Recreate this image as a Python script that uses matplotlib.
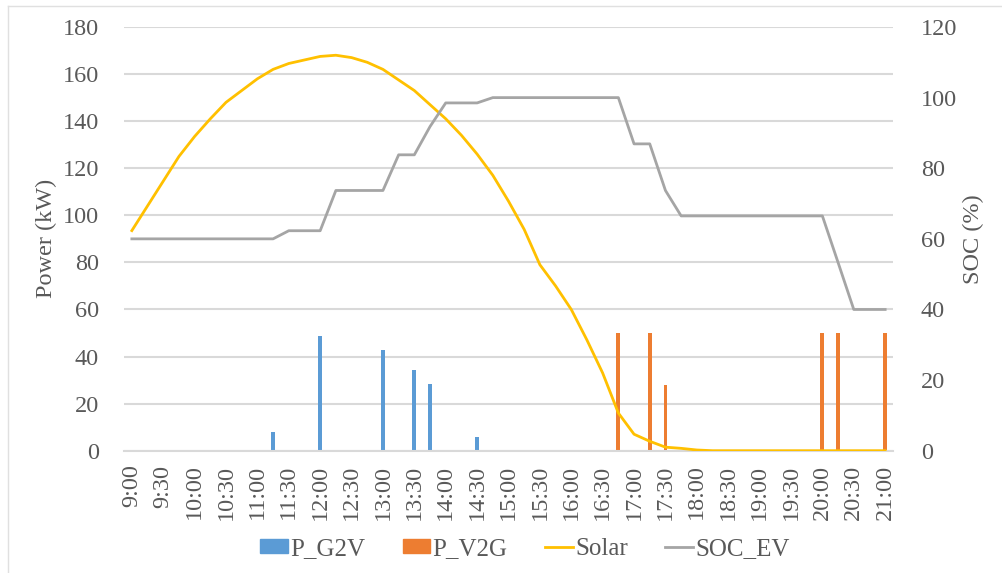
import matplotlib.pyplot as plt
import numpy as np
from matplotlib.lines import Line2D
from matplotlib.patches import Patch

# 15-minute steps from 9:00 to 21:00
times = [f"{h}:{m:02d}" for h in range(9, 22) for m in (0, 15, 30, 45)][:49]

p_g2v = [0]*49
for i, v in [(9, 8.1), (11, 0.5), (12, 48.6), (16, 42.6), (18, 34.4), (19, 28.3), (22, 5.7)]:
    p_g2v[i] = v

p_v2g = [0]*49
for i, v in [(31, 50), (33, 50), (34, 28), (44, 50), (45, 50), (48, 50)]:
    p_v2g[i] = v

solar = [93.5, 104, 114.5, 125, 133.5, 141, 148, 153, 158, 162, 164.5, 166, 167.5,
         168, 167, 165, 162, 157.5, 153, 147, 141, 134, 126, 117, 106, 94, 79, 70,
         60, 47, 33, 16, 7, 4, 1.5, 1, 0.3] + [0]*12

soc_ev = [60]*10 + [62.3]*3 + [73.7]*4 + [83.8]*2 + [91.8] + [98.5]*3 + [100]*9 + \
         [86.9]*2 + [73.7] + [66.5]*10 + [53.3] + [40]*3

tick_labels = times[::2]

plt.rcParams['font.family'] = ['Liberation Serif', 'DejaVu Serif']
gray = '#595959'
fs = 17.5

fig = plt.figure(figsize=(10.03, 5.73), dpi=100)
ax = fig.add_axes([124/1003, 1-450.7/573, (893-124)/1003, (450.7-27)/573])
ax2 = ax.twinx()

x = np.arange(len(times))
ax.bar(x, p_g2v, width=0.24, color='#5B9BD5', zorder=2)
ax.bar(x, p_v2g, width=0.24, color='#ED7D31', zorder=2)
ax.plot(x, solar, color='#FFC000', lw=2.0, zorder=3)
ax2.plot(x, soc_ev, color='#A5A5A5', lw=2.0, zorder=3)

ax.set_xlim(-0.5, 48.5)
ax.set_ylim(0, 180)
ax2.set_ylim(0, 120)
ax.set_yticks(range(0, 181, 20))
ax2.set_yticks(range(0, 121, 20))
ax.set_xticks(x[::2])
ax.set_xticklabels(tick_labels, rotation=90)
ax.grid(axis='y', color='#D9D9D9', lw=1.5, zorder=0)
ax.set_axisbelow(True)

for a in (ax, ax2):
    for s in a.spines.values():
        s.set_visible(False)
    a.tick_params(length=0, labelsize=fs, labelcolor=gray)
ax.spines['bottom'].set_visible(True)
ax.spines['bottom'].set_color('#D9D9D9')
ax.spines['bottom'].set_linewidth(1.5)
ax.tick_params(axis='y', pad=18)
ax2.tick_params(axis='y', pad=20)
ax.tick_params(axis='x', pad=10)

ax.set_ylabel("Power (kW)", fontsize=fs, color=gray, labelpad=4)
ax2.set_ylabel("SOC (%)", fontsize=fs, color=gray, labelpad=4)

handles = [Patch(color='#5B9BD5'), Patch(color='#ED7D31'),
           Line2D([], [], color='#FFC000', lw=2), Line2D([], [], color='#A5A5A5', lw=2)]
fig.legend(handles, ["P_G2V", "P_V2G", "Solar", "SOC_EV"], loc='center',
           bbox_to_anchor=(525/1003, 1-549/573), ncol=4, frameon=False,
           fontsize=18, labelcolor=gray, handlelength=1.1, handleheight=0.45,
           handletextpad=0.1, columnspacing=1.5)

# thin border on the top and left like the source image
fig.add_artist(Line2D([8/1003, 1], [1-6/573, 1-6/573], color='#E0E0E0', lw=1))
fig.add_artist(Line2D([8/1003, 8/1003], [0, 1-6/573], color='#E0E0E0', lw=1))

fig.savefig("out.png", dpi=100)
